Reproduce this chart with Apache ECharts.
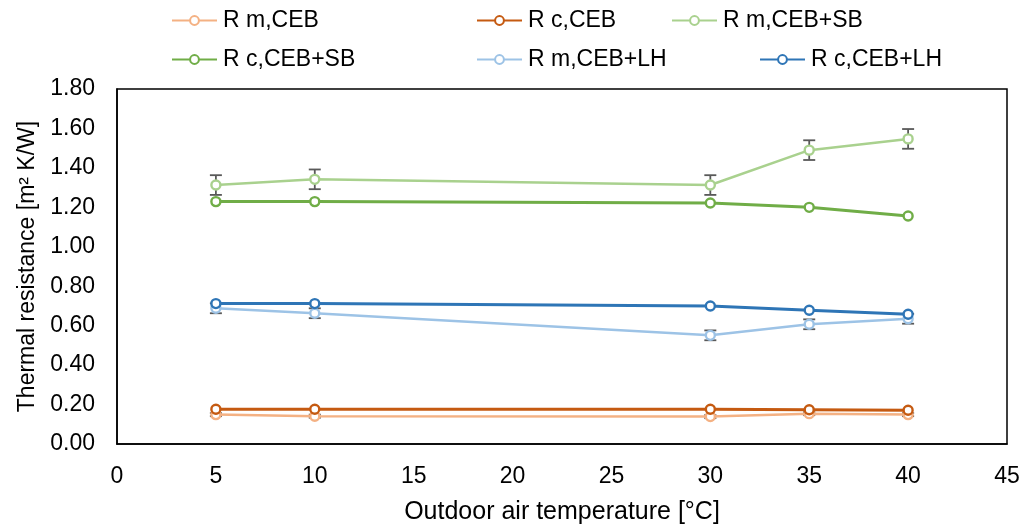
<!DOCTYPE html>
<html>
<head>
<meta charset="utf-8">
<script src="https://cdn.jsdelivr.net/npm/echarts@6/dist/echarts.min.js"></script>
<style>
  html, body { margin: 0; padding: 0; background: #fff; }
  #chart { width: 1025px; height: 525px; }
</style>
</head>
<body>
<div id="chart"></div>
<script>
// Outdoor air temperature [°C]
const temps = [5, 10, 30, 35, 40];

// Thermal resistance [m² K/W] per configuration
const rmCeb   = [0.149, 0.141, 0.139, 0.154, 0.149];
const rcCeb   = [0.176, 0.176, 0.176, 0.174, 0.171];
const rmCebSb = [1.313, 1.342, 1.313, 1.490, 1.547];
const rcCebSb = [1.229, 1.229, 1.222, 1.200, 1.156];
const rmCebLh = [0.688, 0.663, 0.551, 0.607, 0.635];
const rcCebLh = [0.712, 0.712, 0.700, 0.678, 0.658];

// Measurement uncertainty (±) on the measured series
const errMCeb = [0.008, 0.008, 0.008, 0.008, 0.008];
const errMSb  = [0.05, 0.05, 0.05, 0.05, 0.05];
const errMLh  = [0.025, 0.025, 0.025, 0.025, 0.025];

const xTicks = [0, 5, 10, 15, 20, 25, 30, 35, 40, 45];

const FONT = "'Liberation Sans', Arial, sans-serif";

const seriesDefs = [
  { name: 'R m,CEB',    data: rmCeb,   color: '#F4B183', width: 2.5, err: errMCeb },
  { name: 'R c,CEB',    data: rcCeb,   color: '#C55A11', width: 3 },
  { name: 'R m,CEB+SB', data: rmCebSb, color: '#A9D18E', width: 2.5, err: errMSb },
  { name: 'R c,CEB+SB', data: rcCebSb, color: '#70AD47', width: 3 },
  { name: 'R m,CEB+LH', data: rmCebLh, color: '#9DC3E6', width: 2.5, err: errMLh },
  { name: 'R c,CEB+LH', data: rcCebLh, color: '#2E75B6', width: 3 }
];

const series = [];
seriesDefs.forEach(function (s, idx) {
  if (s.err) {
    series.push({
      type: 'custom',
      name: s.name + ' err',
      z: 1,
      silent: true,
      data: temps.map(function (t, i) { return [t, s.data[i], s.err[i]]; }),
      renderItem: function (params, api) {
        const x = api.value(0), y = api.value(1), e = api.value(2);
        const top = api.coord([x, y + e]);
        const bot = api.coord([x, y - e]);
        const hw = 6;
        const st = { stroke: '#595959', lineWidth: 1.8 };
        return {
          type: 'group',
          children: [
            { type: 'line', shape: { x1: top[0], y1: top[1], x2: bot[0], y2: bot[1] }, style: st },
            { type: 'line', shape: { x1: top[0] - hw, y1: top[1], x2: top[0] + hw, y2: top[1] }, style: st },
            { type: 'line', shape: { x1: bot[0] - hw, y1: bot[1], x2: bot[0] + hw, y2: bot[1] }, style: st }
          ]
        };
      }
    });
  }
  series.push({
    type: 'line',
    name: s.name,
    z: 2 + idx,
    data: temps.map(function (t, i) { return [t, s.data[i]]; }),
    symbol: 'circle',
    symbolSize: 9,
    lineStyle: { color: s.color, width: s.width },
    itemStyle: { color: '#ffffff', borderColor: s.color, borderWidth: 2.4 },
    emphasis: { disabled: true }
  });
});

// One legend entry per slot, two rows
const legendPos = [
  { name: 'R m,CEB',    left: 171, top: 9 },
  { name: 'R c,CEB',    left: 476, top: 9 },
  { name: 'R m,CEB+SB', left: 671, top: 9 },
  { name: 'R c,CEB+SB', left: 171, top: 48 },
  { name: 'R m,CEB+LH', left: 476, top: 48 },
  { name: 'R c,CEB+LH', left: 759, top: 48 }
];
const legends = legendPos.map(function (p) {
  return {
    data: [p.name],
    left: p.left,
    top: p.top,
    padding: 0,
    itemWidth: 45,
    itemHeight: 11,
    itemGap: 0,
    selectedMode: false,
    textStyle: { fontFamily: FONT, fontSize: 23, color: '#000', padding: [0, 0, 0, 1] }
  };
});

const chart = echarts.init(document.getElementById('chart'), null, { renderer: 'canvas' });
chart.setOption({
  backgroundColor: '#ffffff',
  animation: false,
  legend: legends,
  grid: {
    left: 117, right: 18, top: 89, bottom: 81,
    outerBoundsMode: 'none',
    containLabel: false,
    show: true, borderColor: '#000', borderWidth: 1.5, backgroundColor: 'transparent'
  },
  xAxis: {
    type: 'value',
    min: xTicks[0],
    max: xTicks[xTicks.length - 1],
    interval: 5,
    name: 'Outdoor air temperature [°C]',
    nameLocation: 'middle',
    nameGap: 56,
    nameTextStyle: { fontFamily: FONT, fontSize: 25, color: '#000' },
    axisLine: { show: true, lineStyle: { color: '#000', width: 1.5 } },
    axisTick: { show: false },
    splitLine: { show: false },
    axisLabel: { fontFamily: FONT, fontSize: 23, color: '#000', margin: 21 }
  },
  yAxis: {
    type: 'value',
    min: 0,
    max: 1.8,
    interval: 0.2,
    name: 'Thermal resistance [m² K/W]',
    nameLocation: 'middle',
    nameRotate: 90,
    nameGap: 78,
    nameTextStyle: { fontFamily: FONT, fontSize: 23, color: '#000' },
    axisLine: { show: true, lineStyle: { color: '#000', width: 1.5 } },
    axisTick: { show: false },
    splitLine: { show: false },
    axisLabel: {
      fontFamily: FONT, fontSize: 23, color: '#000', margin: 22,
      formatter: function (v) { return v.toFixed(2); }
    }
  },
  series: series
});
</script>
</body>
</html>
